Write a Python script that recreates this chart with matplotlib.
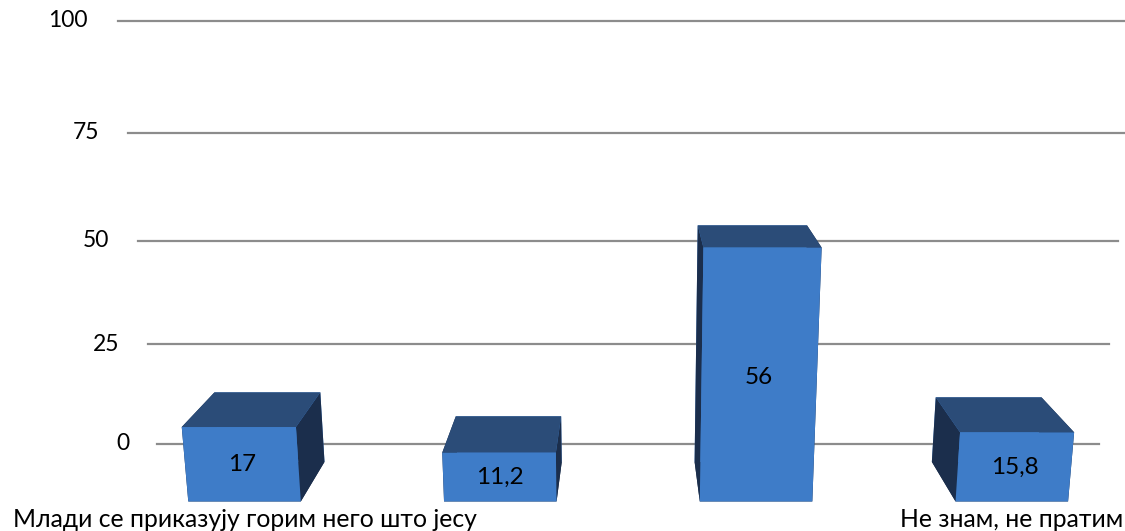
import numpy as np
import matplotlib
matplotlib.use("Agg")
import matplotlib.pyplot as plt

# -----------------------------------
# DATA
# -----------------------------------

categories = [
    "Млади се приказују горим него што јесу",
    "",
    "",
    "Не знам, не пратим",
]
values = [17, 11.2, 56, 15.8]
y_ticks = [0, 25, 50, 75, 100]

# -----------------------------------
# STYLE
# -----------------------------------

plt.rcParams["font.family"] = ["Lato", "Noto Sans", "DejaVu Sans"]

FRONT = "#3E7CC8"
TOP = "#2B4C78"
SIDE = "#1B2E4C"
GRID = "#8C8C8C"

BAR_W = 0.44
BAR_D = 0.66

# -----------------------------------
# PLOT
# -----------------------------------

fig = plt.figure(figsize=(11.25, 5.31), dpi=100)
ax = fig.add_axes([0.052, 0.002, 1, 1], projection="3d",
                  computed_zorder=False)

ax.set_xlim(-0.56, 3.56)
ax.set_ylim(0, 1)
ax.set_zlim(0, 100)
ax.set_box_aspect((4.12, 0.6, 1.82), zoom=2.091)
ax.set_proj_type("persp", focal_length=0.44)
ax.view_init(elev=13.5, azim=-90)
ax.set_axis_off()

x0, x1 = ax.get_xlim()
back = ax.get_ylim()[1]

# back wall gridlines + tick labels
for v in y_ticks:
    ax.plot([x0, x1], [back, back], [v, v], color=GRID, lw=1.6,
            zorder=1, clip_on=False)
    ax.text(x0 - 0.12, back, v, str(v), ha="right", va="center",
            fontsize=16.5, zorder=3)

x = np.arange(len(values))

face_colors = []
for _ in values:
    # -z, +z, -y, +y, -x, +x
    face_colors += [SIDE, TOP, FRONT, FRONT, SIDE, SIDE]

bars = ax.bar3d(x - BAR_W / 2, np.zeros(len(x)), np.zeros(len(x)),
                BAR_W, BAR_D, values, color=face_colors, shade=False,
                zorder=2)
bars.set_clip_on(False)

for xi, v in zip(x, values):
    ax.text(xi, 0, v / 2, f"{v:g}".replace(".", ","), ha="center",
            va="center", fontsize=17.5, zorder=4)

for xi, c in zip(x, categories):
    if c:
        ax.text(xi, 0, -1.5, c, ha="center", va="top", fontsize=17.8,
                zorder=4)

fig.savefig("out.png", dpi=100)
plt.close()
